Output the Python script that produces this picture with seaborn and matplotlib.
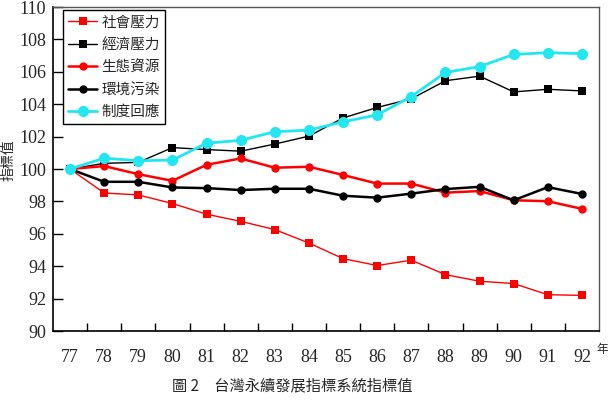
import matplotlib
matplotlib.use("Agg")
import matplotlib.pyplot as plt
import seaborn as sns
import numpy as np
import pandas as pd
from matplotlib.ticker import FixedLocator

years = ["77", "78", "79", "80", "81", "82", "83", "84", "85", "86", "87", "88", "89", "90", "91", "92"]
social = [100, 98.52, 98.40, 97.87, 97.21, 96.77, 96.26, 95.43, 94.47, 94.04, 94.37, 93.48, 93.07, 92.93, 92.24, 92.20]
economic = [100, 100.35, 100.41, 101.32, 101.20, 101.10, 101.54, 102.03, 103.15, 103.80, 104.33, 105.45, 105.73, 104.76, 104.92, 104.82]
ecology = [100, 100.18, 99.68, 99.27, 100.26, 100.65, 100.08, 100.14, 99.63, 99.10, 99.10, 98.54, 98.64, 98.07, 98.01, 97.54]
pollution = [100, 99.21, 99.21, 98.86, 98.82, 98.70, 98.78, 98.78, 98.35, 98.23, 98.48, 98.76, 98.90, 98.07, 98.88, 98.46]
institution = [100, 100.67, 100.51, 100.55, 101.59, 101.77, 102.30, 102.40, 102.91, 103.34, 104.47, 105.96, 106.32, 107.07, 107.18, 107.12]
series_names = ["社會壓力", "經濟壓力", "生態資源", "環境污染", "制度回應"]
y_ticks = [90, 92, 94, 96, 98, 100, 102, 104, 106, 108, 110]

sns.set_style("white")
cjk = ["Noto Sans CJK TC", "DejaVu Sans"]
serif = "Liberation Serif"

fig = plt.figure(figsize=(6.08, 4.01), dpi=100)
ax = fig.add_axes([53/608, 1 - 331/401, (599-53)/608, (331-7)/401])

xs = np.arange(len(years))
styles = [
    dict(color="#FF0000", marker="s", lw=1.0, ms=5.5),
    dict(color="#000000", marker="s", lw=1.0, ms=6),
    dict(color="#FF0000", marker="o", lw=1.8, ms=6),
    dict(color="#000000", marker="o", lw=1.8, ms=6),
    dict(color="#22E6F0", marker="o", lw=2.0, ms=8),
]
all_vals = [social, economic, ecology, pollution, institution]
for name, vals, st in zip(series_names, all_vals, styles):
    sns.lineplot(x=xs, y=vals, ax=ax, label=name, color=st["color"], marker=st["marker"],
                 linewidth=st["lw"], markersize=st["ms"], markeredgewidth=0)

ax.set_xlim(-0.5, len(years) - 0.5)
ax.set_ylim(90, 110)
ax.set_xticks(xs)
ax.set_xticklabels(years, fontfamily=serif, fontsize=13)
ax.xaxis.set_minor_locator(FixedLocator(np.arange(0.5, len(years) - 0.5, 1)))
ax.tick_params(axis="x", which="major", length=0, pad=13)
ax.tick_params(axis="x", which="minor", direction="in", length=6, width=1, color="black", bottom=True)
ax.set_yticks(y_ticks)
ax.set_yticklabels([str(v) for v in y_ticks], fontfamily=serif, fontsize=13)
ax.tick_params(axis="y", which="major", direction="in", length=7, width=1, color="black", left=True, pad=5)

for s in ["left", "bottom"]:
    ax.spines[s].set_color("black")
    ax.spines[s].set_linewidth(1.2)
for s in ["top", "right"]:
    ax.spines[s].set_color("#555555")
    ax.spines[s].set_linewidth(1.0)

leg = ax.legend(loc="upper left", bbox_to_anchor=(0.018, 0.99), prop={"family": cjk, "size": 10.5},
                frameon=True, fancybox=False, edgecolor="black", framealpha=1,
                handlelength=2.0, handletextpad=0.3, labelspacing=0.58, borderpad=0.35, borderaxespad=0)
leg.get_frame().set_linewidth(1.0)

ax.set_xlabel("")
ax.set_ylabel("")
fig.text(0.002, 1 - 160/401, "指標值", rotation=90, ha="left", va="center", family=cjk, fontsize=10)
fig.text(596/608, 1 - 349/401, "年", ha="left", va="center", family=cjk, fontsize=8.5)
fig.text(292/608, 1 - 386/401, "圖 2　台灣永續發展指標系統指標值", ha="center", va="center", family=cjk, fontsize=11)

fig.savefig("out.png", dpi=100)
